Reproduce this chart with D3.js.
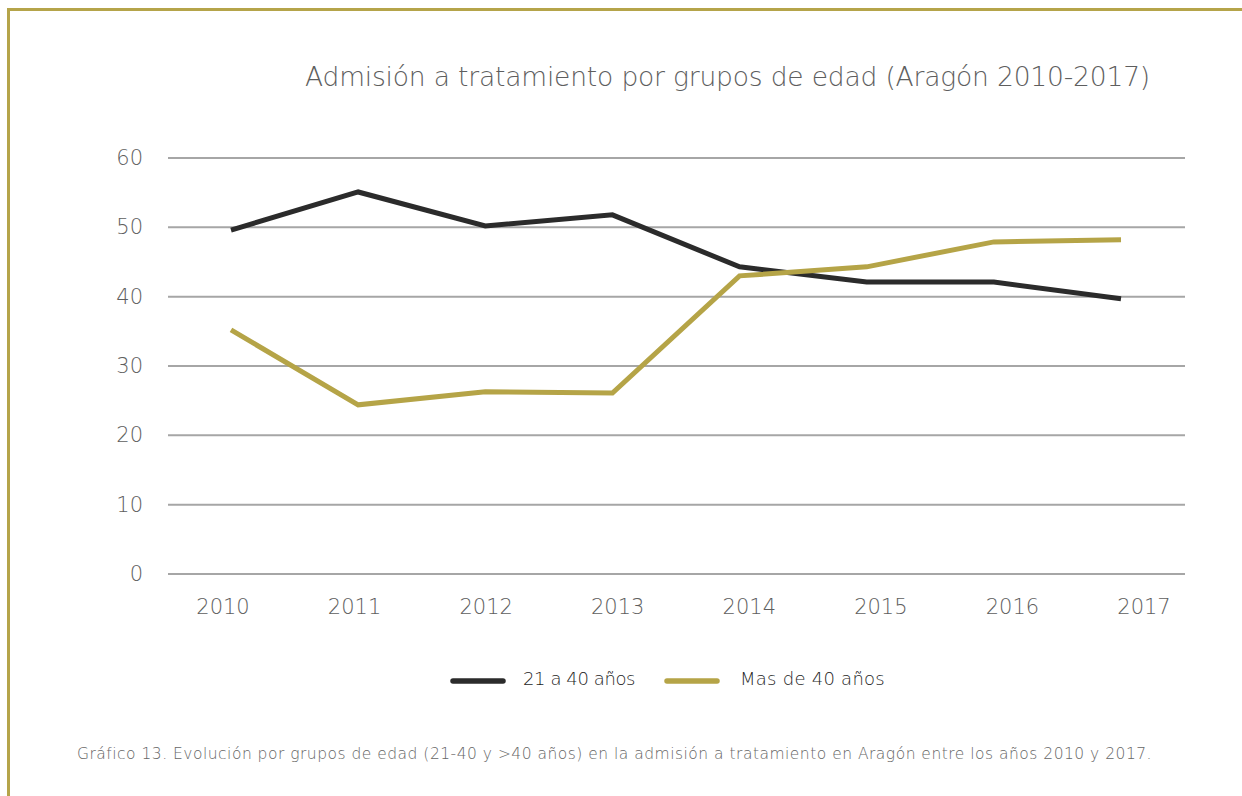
<!DOCTYPE html>
<html><head><meta charset="utf-8">
<script src="https://cdn.jsdelivr.net/npm/d3@7"></script>
<style>body{margin:0;background:#fff;}svg{display:block;font-family:"DejaVu Sans",sans-serif;}</style>
</head><body>
<svg id="c" width="1242" height="796"></svg>
<script>
const years = ["2010","2011","2012","2013","2014","2015","2016","2017"];
const young = [49.6,55.1,50.2,51.8,44.3,42.1,42.1,39.7];
const older = [35.2,24.4,26.3,26.1,43.0,44.3,47.9,48.2];
const yTicks = [0,10,20,30,40,50,60];
const seriesNames = ["21 a 40 años","Mas de 40 años"];
const colors = ["#2b2b2b","#b5a447"];

const svg = d3.select("#c");
function fit(sel, w){
  const n = sel.text().length;
  const cur = sel.node().getComputedTextLength();
  sel.attr("letter-spacing", ((w-cur)/n).toFixed(3));
  return sel;
}
svg.append("path").attr("d","M1242,9.5 H8.5 V796").attr("fill","none").attr("stroke","#b5a44a").attr("stroke-width",3);

const y = d3.scaleLinear().domain([0,60]).range([574,158]);
const x = d3.scalePoint().domain(years).range([231,1121]);
const xl = d3.scalePoint().domain(years).range([223,1144]);

svg.append("g").selectAll("line").data(yTicks).join("line")
  .attr("x1",168).attr("x2",1185).attr("y1",d=>y(d)).attr("y2",d=>y(d))
  .attr("stroke","#a6a6a6").attr("stroke-width",2);

svg.append("g").selectAll("text").data(yTicks).join("text")
  .attr("x",143).attr("y",d=>y(d)+7).attr("text-anchor","end")
  .attr("fill","#5e5e5e").attr("font-size",21).attr("font-weight",300).text(d=>d);

svg.append("g").selectAll("text").data(years).join("text")
  .attr("x",d=>xl(d)).attr("y",614).attr("text-anchor","middle")
  .attr("fill","#5e5e5e").attr("font-size",21).attr("font-weight",300).text(d=>d);

const line = d3.line().x((d,i)=>x(years[i])).y(d=>y(d));
[young,older].forEach((s,k)=>{
  svg.append("path").datum(s).attr("d",line).attr("fill","none")
    .attr("stroke",colors[k]).attr("stroke-width",5).attr("stroke-linejoin","miter");
});

fit(svg.append("text").attr("x",305).attr("y",86).attr("fill","#5e5e5e").attr("font-size",26.5).attr("font-weight",300)
  .text("Admisión a tratamiento por grupos de edad (Aragón 2010-2017)"), 845);

const lg = [{x:450,t:523,w:112},{x:664,t:740,w:145}];
lg.forEach((p,k)=>{
  svg.append("line").attr("x1",p.x+3).attr("x2",p.x+53).attr("y1",681).attr("y2",681)
    .attr("stroke",colors[k]).attr("stroke-width",5.5).attr("stroke-linecap","round");
  fit(svg.append("text").attr("x",p.t).attr("y",685)
    .attr("fill","#1e1e1e").attr("font-size",18).attr("font-weight",300).text(seriesNames[k]), p.w);
});

fit(svg.append("text").attr("x",77).attr("y",759).attr("fill","#666").attr("font-size",15.5).attr("font-weight",300)
  .text("Gráfico 13. Evolución por grupos de edad (21-40 y >40 años) en la admisión a tratamiento en Aragón entre los años 2010 y 2017."), 1075);
</script>
</body></html>
